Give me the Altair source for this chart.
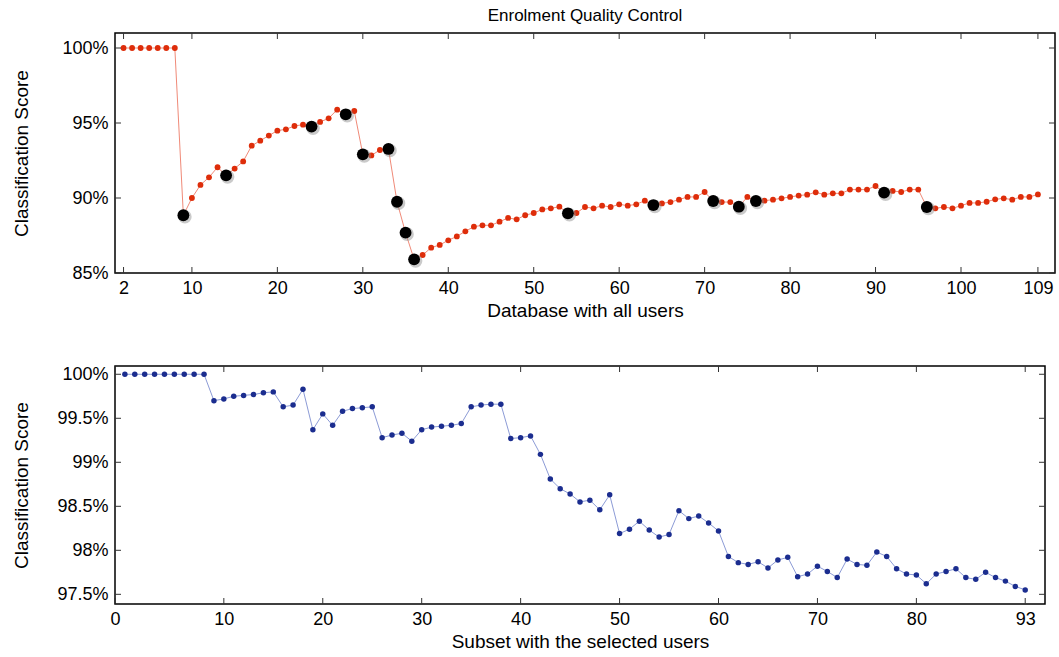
import altair as alt
import pandas as pd

# ---------------- data ----------------
top_x = list(range(2, 110))
top_y = [100, 100, 100, 100, 100, 100, 100,
         88.85, 90.0, 90.87, 91.38, 92.05, 91.51, 91.96, 92.44, 93.49, 93.82,
         94.16, 94.49, 94.58, 94.8, 94.89, 94.76, 95.07, 95.31, 95.89, 95.58,
         95.8, 92.91, 92.84, 93.2, 93.27, 89.75, 87.69, 85.91, 86.2, 86.69,
         86.87, 87.18, 87.44, 87.78, 88.09, 88.18, 88.18, 88.42, 88.67, 88.58,
         88.85, 89.0, 89.24, 89.31, 89.42, 88.98, 89.0, 89.4, 89.31, 89.49,
         89.4, 89.58, 89.49, 89.58, 89.82, 89.53, 89.64, 89.73, 89.89, 90.07,
         90.07, 90.4, 89.8, 89.73, 89.73, 89.42, 90.07, 89.8, 89.82, 89.89,
         89.98, 90.07, 90.16, 90.22, 90.38, 90.22, 90.31, 90.31, 90.56, 90.56,
         90.56, 90.8, 90.36, 90.47, 90.4, 90.56, 90.56, 89.4, 89.31, 89.4,
         89.31, 89.49, 89.67, 89.67, 89.75, 89.91, 89.98, 89.89, 90.07, 90.07,
         90.24]
top_marked = [9, 14, 24, 28, 30, 33, 34, 35, 36, 54, 64, 71, 74, 76, 91, 96]
top_xticks = [2, 10, 20, 30, 40, 50, 60, 70, 80, 90, 100, 109]
top_yticks = [85, 90, 95, 100]

bot_x = list(range(0, 92))
bot_y = [100, 100, 100, 100, 100, 100, 100, 100, 100,
         99.70, 99.72, 99.75, 99.76, 99.77, 99.79, 99.80, 99.63, 99.65, 99.83,
         99.37, 99.55, 99.42, 99.58, 99.61, 99.62, 99.63, 99.28, 99.31, 99.33,
         99.24, 99.37, 99.40, 99.41, 99.42, 99.44, 99.63, 99.65, 99.66, 99.66,
         99.27, 99.28, 99.30, 99.09, 98.81, 98.70, 98.64, 98.55, 98.57, 98.46,
         98.63, 98.19, 98.24, 98.33, 98.23, 98.15, 98.18, 98.45, 98.36, 98.39,
         98.31, 98.22, 97.93, 97.86, 97.84, 97.87, 97.80, 97.89, 97.92, 97.70,
         97.73, 97.82, 97.76, 97.69, 97.90, 97.84, 97.83, 97.98, 97.93, 97.79,
         97.73, 97.72, 97.62, 97.73, 97.76, 97.79, 97.69, 97.67, 97.75, 97.69,
         97.65, 97.59, 97.55]
bot_xtick_pos = [-1, 10, 20, 30, 40, 50, 60, 70, 80, 91]
bot_xtick_lab = ["0", "10", "20", "30", "40", "50", "60", "70", "80", "93"]
bot_yticks = [97.5, 98, 98.5, 99, 99.5, 100]

FONT = "Liberation Sans"
TICK_LEN = 6
TICK_COLOR = "#333333"


def label_expr(pos, lab):
    p = "[" + ",".join(str(v) for v in pos) + "]"
    l = "[" + ",".join("'" + s + "'" for s in lab) + "]"
    return f"{l}[indexof({p}, datum.value)]"


def panel(xs, ys, W, H, xdomain, ydomain, xticks, xlabels, yticks, xtitle,
          dot_color, line_color, dot_size, marked=None, title=None):
    df = pd.DataFrame({"x": xs, "y": ys})
    X = alt.X("x:Q",
              scale=alt.Scale(domain=xdomain, nice=False, zero=False),
              axis=alt.Axis(values=xticks, labelExpr=label_expr(xticks, xlabels),
                            title=xtitle, ticks=False, domain=False, grid=False,
                            labelPadding=6, titlePadding=4, labelFlush=False,
                            labelOverlap=False))
    Y = alt.Y("y:Q",
              scale=alt.Scale(domain=ydomain, nice=False, zero=False),
              axis=alt.Axis(values=yticks, labelExpr="datum.value + '%'",
                            title="Classification Score", ticks=False,
                            domain=False, grid=False, labelPadding=7,
                            titleX=-84, labelFlush=False, labelOverlap=False))
    base = alt.Chart(df)
    layers = [
        base.mark_line(color=line_color, strokeWidth=1).encode(x=X, y=Y),
        base.mark_circle(color=dot_color, size=dot_size, opacity=1).encode(x=X, y=Y),
    ]
    if marked:
        mdf = df[df["x"].isin(marked)]
        mb = alt.Chart(mdf)
        layers.append(mb.mark_circle(color="#8a8a8a", size=185, opacity=0.45,
                                     xOffset=1.5, yOffset=1.5).encode(x=X, y=Y))
        layers.append(mb.mark_circle(color="#000000", size=140, opacity=1).encode(x=X, y=Y))
    xt = alt.Chart(pd.DataFrame({"x": xticks}))
    yt = alt.Chart(pd.DataFrame({"y": yticks}))
    layers += [
        xt.mark_rule(color=TICK_COLOR, strokeWidth=1).encode(
            x=X, y=alt.value(H), y2=alt.value(H - TICK_LEN)),
        xt.mark_rule(color=TICK_COLOR, strokeWidth=1).encode(
            x=X, y=alt.value(0), y2=alt.value(TICK_LEN)),
        yt.mark_rule(color=TICK_COLOR, strokeWidth=1).encode(
            y=Y, x=alt.value(0), x2=alt.value(TICK_LEN)),
        yt.mark_rule(color=TICK_COLOR, strokeWidth=1).encode(
            y=Y, x=alt.value(W), x2=alt.value(W - TICK_LEN)),
    ]
    props = dict(width=W, height=H)
    if title:
        props["title"] = alt.TitleParams(title, fontSize=17, font=FONT,
                                         fontWeight="normal", color="black",
                                         anchor="middle", offset=8)
    return alt.layer(*layers).properties(**props)


top = panel(top_x, top_y, 940, 240, [1, 111], [85, 101], top_xticks,
            [str(v) for v in top_xticks], top_yticks, "Database with all users",
            "#DE2D0A", "#F08A78", 34, marked=top_marked,
            title="Enrolment Quality Control")
bottom = panel(bot_x, bot_y, 930, 238, [-1, 93], [97.39, 100.094], bot_xtick_pos,
               bot_xtick_lab, bot_yticks, "Subset with the selected users",
               "#1B2D8F", "#8C9BD6", 30)

chart = alt.vconcat(top, bottom, spacing=43).properties(
    padding={"left": 11, "top": 5, "right": 0, "bottom": 0},
    background="white",
).configure_view(
    stroke="black", strokeWidth=1.5
).configure_axis(
    labelFont=FONT, titleFont=FONT, labelFontSize=18, titleFontSize=19,
    titleFontWeight="normal", labelColor="black", titleColor="black"
)

chart.save("out.html", embed_options={"renderer": "svg", "actions": False})
